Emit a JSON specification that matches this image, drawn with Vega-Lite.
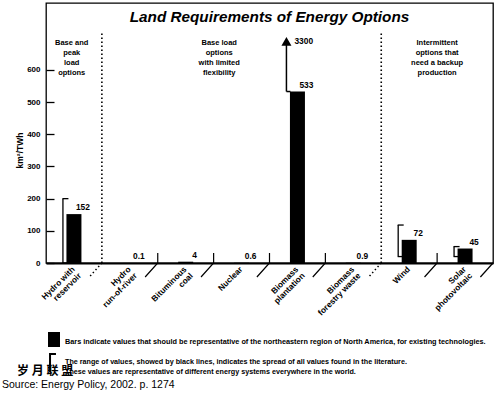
{
  "$schema": "https://vega.github.io/schema/vega-lite/v6.json",
  "width": 447,
  "height": 260,
  "autosize": "none",
  "padding": {"left": 46, "top": 3, "right": 7, "bottom": 134},
  "background": "white",
  "config": {
    "view": {"stroke": "black", "strokeWidth": 1.3},
    "font": "Liberation Sans",
    "text": {"color": "black"}
  },
  "layer": [
    {
      "data": {"values": [
        {"cat": "Hydro with reservoir", "value": 152, "label": "152"},
        {"cat": "Hydro run-of-river", "value": 0.1, "label": "0.1"},
        {"cat": "Bituminous coal", "value": 4, "label": "4"},
        {"cat": "Nuclear", "value": 0.6, "label": "0.6"},
        {"cat": "Biomass plantation", "value": 533, "label": "533"},
        {"cat": "Biomass forestry waste", "value": 0.9, "label": "0.9"},
        {"cat": "Wind", "value": 72, "label": "72"},
        {"cat": "Solar photovoltaic", "value": 45, "label": "45"}
      ]},
      "layer": [
        {
          "mark": {"type": "bar", "color": "black", "size": 15},
          "encoding": {
            "x": {
              "field": "cat", "type": "nominal", "sort": null,
              "scale": {"domain": ["Hydro with reservoir", "Hydro run-of-river", "Bituminous coal", "Nuclear", "Biomass plantation", "Biomass forestry waste", "Wind", "Solar photovoltaic"], "paddingInner": 0, "paddingOuter": 0},
              "axis": {
                "title": null, "ticks": false, "domain": true, "domainColor": "black", "domainWidth": 2,
                "labelAngle": -45, "labelAlign": "right", "labelBaseline": "middle", "labelPadding": 5,
                "labelFontSize": 8.3, "labelFontWeight": "bold", "labelColor": "black", "labelLineHeight": 9,
                "labelFont": "Liberation Sans",
                "labelExpr": "{'Hydro with reservoir':['Hydro with','reservoir'],'Hydro run-of-river':['Hydro','run-of-river'],'Bituminous coal':['Bituminous','coal'],'Nuclear':'Nuclear','Biomass plantation':['Biomass','plantation'],'Biomass forestry waste':['Biomass','forestry waste'],'Wind':'Wind','Solar photovoltaic':['Solar','photovoltaic']}[datum.label]"
              }
            },
            "y": {
              "field": "value", "type": "quantitative",
              "scale": {"domain": [0, 808.2], "nice": false},
              "axis": {
                "values": [0, 100, 200, 300, 400, 500, 600], "title": "km²/TWh", "grid": false, "domain": false,
                "tickSize": -8, "tickWidth": 1.3, "tickColor": "black", "labelPadding": 14,
                "labelFontSize": 8, "labelFontWeight": "bold", "labelColor": "black", "labelFont": "Liberation Sans",
                "titleFontSize": 8.5, "titleFontWeight": "bold", "titleColor": "black", "titleFont": "Liberation Sans",
                "titleAngle": -90, "titleAlign": "center", "titleBaseline": "middle", "titleX": -27, "titleY": 147
              }
            }
          }
        },
        {
          "mark": {"type": "text", "dx": 9, "dy": -2, "baseline": "bottom", "align": "center", "fontWeight": "bold", "fontSize": 8.4},
          "encoding": {
            "x": {"field": "cat", "type": "nominal", "sort": null},
            "y": {"field": "value", "type": "quantitative"},
            "text": {"field": "label"}
          }
        }
      ]
    },
    {
      "data": {"values": [
        {"cat": "Hydro with reservoir", "lo": 0, "hi": 200},
        {"cat": "Wind", "lo": 20, "hi": 118},
        {"cat": "Solar photovoltaic", "lo": 20, "hi": 51}
      ]},
      "layer": [
        {
          "mark": {"type": "rule", "xOffset": -11, "strokeWidth": 1.3, "color": "black"},
          "encoding": {
            "x": {"field": "cat", "type": "nominal", "sort": null},
            "y": {"field": "lo", "type": "quantitative"},
            "y2": {"field": "hi"}
          }
        },
        {
          "mark": {"type": "tick", "orient": "horizontal", "size": 6, "thickness": 1.3, "xOffset": -8.5, "color": "black", "opacity": 1},
          "encoding": {
            "x": {"field": "cat", "type": "nominal", "sort": null},
            "y": {"field": "hi", "type": "quantitative"}
          }
        },
        {
          "mark": {"type": "tick", "orient": "horizontal", "size": 6, "thickness": 1.3, "xOffset": -8.5, "color": "black", "opacity": 1},
          "encoding": {
            "x": {"field": "cat", "type": "nominal", "sort": null},
            "y": {"field": "lo", "type": "quantitative"}
          }
        }
      ]
    },
    {
      "data": {"values": [
        {"cat": "Biomass plantation", "value": 533, "max": "3300"}
      ]},
      "layer": [
        {
          "mark": {"type": "rule", "xOffset": -11, "strokeWidth": 1.5, "color": "black"},
          "encoding": {
            "x": {"field": "cat", "type": "nominal", "sort": null},
            "y": {"field": "value", "type": "quantitative"},
            "y2": {"datum": 690}
          }
        },
        {
          "mark": {"type": "tick", "orient": "horizontal", "size": 4, "thickness": 1.5, "xOffset": -9, "color": "black", "opacity": 1},
          "encoding": {
            "x": {"field": "cat", "type": "nominal", "sort": null},
            "y": {"field": "value", "type": "quantitative"}
          }
        },
        {
          "mark": {"type": "point", "shape": "triangle-up", "size": 100, "filled": true, "color": "black", "opacity": 1, "xOffset": -11},
          "encoding": {
            "x": {"field": "cat", "type": "nominal", "sort": null},
            "y": {"datum": 689}
          }
        },
        {
          "mark": {"type": "text", "dx": -3, "align": "left", "baseline": "middle", "fontWeight": "bold", "fontSize": 8.4},
          "encoding": {
            "x": {"field": "cat", "type": "nominal", "sort": null},
            "y": {"datum": 690},
            "text": {"field": "max"}
          }
        }
      ]
    },
    {
      "data": {"values": [
        {"cat": "Hydro run-of-river"},
        {"cat": "Wind"}
      ]},
      "layer": [
        {
          "mark": {"type": "rule", "strokeWidth": 1.6, "strokeDash": [1.5, 2.5], "color": "black"},
          "encoding": {
            "x": {"field": "cat", "type": "nominal", "sort": null, "bandPosition": 0},
            "y": {"datum": 0},
            "y2": {"datum": 721.2}
          }
        },
        {
          "mark": {"type": "point", "shape": "M 0 0 L -0.9 1", "size": 784, "filled": false, "stroke": "black", "strokeWidth": 1.5, "strokeDash": [1.5, 2.5], "opacity": 1},
          "encoding": {
            "x": {"field": "cat", "type": "nominal", "sort": null, "bandPosition": 0},
            "y": {"datum": 0}
          }
        }
      ]
    },
    {
      "data": {"values": [
        {"cat": "Bituminous coal"},
        {"cat": "Nuclear"},
        {"cat": "Biomass plantation"},
        {"cat": "Biomass forestry waste"},
        {"cat": "Solar photovoltaic"}
      ]},
      "mark": {"type": "point", "shape": "M 0 -0.714 L 0 0 L -0.9 1", "size": 784, "filled": false, "stroke": "black", "strokeWidth": 1.2, "opacity": 1},
      "encoding": {
        "x": {"field": "cat", "type": "nominal", "sort": null, "bandPosition": 0},
        "y": {"datum": 0}
      }
    },
    {
      "data": {"values": [
        {"cat": "Solar photovoltaic"}
      ]},
      "mark": {"type": "point", "shape": "M 0 0 L -0.9 1", "size": 784, "filled": false, "stroke": "black", "strokeWidth": 1.2, "opacity": 1},
      "encoding": {
        "x": {"field": "cat", "type": "nominal", "sort": null, "bandPosition": 1},
        "y": {"datum": 0}
      }
    },
    {
      "mark": {"type": "rule", "strokeWidth": 1.3, "color": "black"},
      "encoding": {"y": {"datum": 721.2}}
    },
    {
      "data": {"values": [{"title": "Land Requirements of Energy Options"}]},
      "mark": {"type": "text", "fontSize": 15.3, "fontWeight": "bold", "fontStyle": "italic", "baseline": "middle", "align": "center"},
      "encoding": {
        "y": {"datum": 764.7},
        "text": {"field": "title"}
      }
    },
    {
      "data": {"values": [
        {"cat": "Hydro with reservoir", "note": "Base and\npeak\nload\noptions"}
      ]},
      "mark": {"type": "text", "lineBreak": "\n", "lineHeight": 10, "fontSize": 7.5, "fontWeight": "bold", "align": "center", "baseline": "top"},
      "encoding": {
        "x": {"field": "cat", "type": "nominal", "sort": null, "bandPosition": 0.46},
        "y": {"datum": 696},
        "text": {"field": "note"}
      }
    },
    {
      "data": {"values": [
        {"cat": "Nuclear", "note": "Base load\noptions\nwith limited\nflexibility"}
      ]},
      "mark": {"type": "text", "lineBreak": "\n", "lineHeight": 10, "fontSize": 7.5, "fontWeight": "bold", "align": "center", "baseline": "top"},
      "encoding": {
        "x": {"field": "cat", "type": "nominal", "sort": null, "bandPosition": 0.1},
        "y": {"datum": 696},
        "text": {"field": "note"}
      }
    },
    {
      "data": {"values": [
        {"cat": "Solar photovoltaic", "note": "Intermittent\noptions that\nneed a backup\nproduction"}
      ]},
      "mark": {"type": "text", "lineBreak": "\n", "lineHeight": 10, "fontSize": 7.5, "fontWeight": "bold", "align": "center", "baseline": "top"},
      "encoding": {
        "x": {"field": "cat", "type": "nominal", "sort": null, "bandPosition": 0},
        "y": {"datum": 696},
        "text": {"field": "note"}
      }
    },
    {
      "data": {"values": [
        {"cat": "Hydro with reservoir", "txt": "Bars indicate values that should be representative of the northeastern region of North America, for existing technologies."}
      ]},
      "layer": [
        {
          "mark": {"type": "point", "shape": "M -0.8 -1 L 0.8 -1 L 0.8 1 L -0.8 1 Z", "size": 225, "filled": true, "color": "black", "opacity": 1, "xOffset": 8},
          "encoding": {
            "x": {"field": "cat", "type": "nominal", "sort": null, "bandPosition": 0},
            "y": {"datum": -237.8}
          }
        },
        {
          "mark": {"type": "text", "dx": 19, "align": "left", "baseline": "middle", "fontSize": 7.3, "fontWeight": "bold"},
          "encoding": {
            "x": {"field": "cat", "type": "nominal", "sort": null, "bandPosition": 0},
            "y": {"datum": -245.6},
            "text": {"field": "txt"}
          }
        }
      ]
    },
    {
      "data": {"values": [
        {"cat": "Hydro with reservoir", "txt": "The range of values, showed by black lines, indicates the spread of all values found in the literature.\nThese values are representative of different energy systems everywhere in the world."}
      ]},
      "layer": [
        {
          "mark": {"type": "point", "shape": "M 0.33 -1 L -0.33 -1 L -0.33 1", "size": 324, "filled": false, "stroke": "black", "strokeWidth": 2, "opacity": 1, "xOffset": 7},
          "encoding": {
            "x": {"field": "cat", "type": "nominal", "sort": null, "bandPosition": 0},
            "y": {"datum": -310.9}
          }
        },
        {
          "mark": {"type": "text", "dx": 19, "align": "left", "baseline": "top", "lineBreak": "\n", "lineHeight": 10, "fontSize": 7.2, "fontWeight": "bold"},
          "encoding": {
            "x": {"field": "cat", "type": "nominal", "sort": null, "bandPosition": 0},
            "y": {"datum": -295.3},
            "text": {"field": "txt"}
          }
        }
      ]
    },
    {
      "data": {"values": [
        {"cat": "Hydro with reservoir", "txt": "Source: Energy Policy, 2002. p. 1274", "wm": "岁 月 联 盟"}
      ]},
      "layer": [
        {
          "mark": {"type": "text", "dx": -44, "align": "left", "baseline": "middle", "fontSize": 10.5},
          "encoding": {
            "x": {"field": "cat", "type": "nominal", "sort": null, "bandPosition": 0},
            "y": {"datum": -379.2},
            "text": {"field": "txt"}
          }
        },
        {
          "mark": {"type": "text", "dx": -29, "align": "left", "baseline": "middle", "fontSize": 12, "fontWeight": "bold", "font": "Noto Sans CJK SC"},
          "encoding": {
            "x": {"field": "cat", "type": "nominal", "sort": null, "bandPosition": 0},
            "y": {"datum": -335.5},
            "text": {"field": "wm"}
          }
        }
      ]
    }
  ]
}
